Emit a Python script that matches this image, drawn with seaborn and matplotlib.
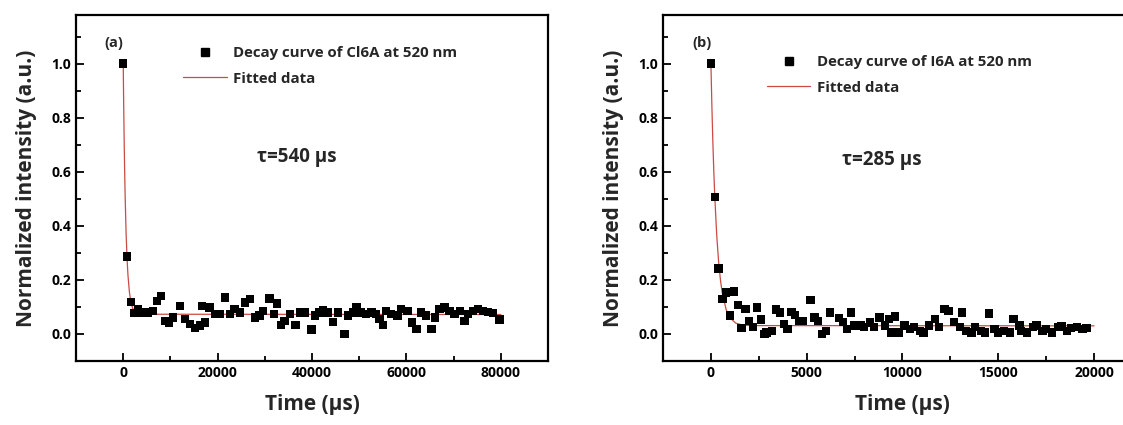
import numpy as np
import pandas as pd
import matplotlib
matplotlib.use('Agg')
import matplotlib.pyplot as plt
from matplotlib.lines import Line2D
from matplotlib.ticker import MultipleLocator, FormatStrFormatter
import seaborn as sns

# Panel (a): Cl6A decay
time_a = [0, 800, 1600, 2400, 3200, 4200, 5300, 6300, 7100, 8000, 8800, 9700,
          10600, 12000, 13100, 14100, 15200, 16200, 16700, 17300, 18300, 19400,
          20500, 21500, 22600, 23600, 24700, 25800, 26800, 27900, 28900, 29600,
          31000, 32000, 32600, 33400, 34200, 35300, 36500, 37400, 38500, 39900,
          40600, 41600, 42300, 43400, 44400, 45500, 46900, 47600, 48700, 49400,
          50400, 51500, 52600, 53600, 54300, 55000, 55700, 56800, 58100, 58900,
          60200, 61200, 62100, 63100, 64200, 65300, 66000, 67000, 68100, 69100,
          70200, 71300, 72300, 73000, 74100, 75100, 76200, 77300, 78300, 79700]
int_a = [1.0, 0.286, 0.119, 0.077, 0.090, 0.080, 0.080, 0.086, 0.123, 0.141,
         0.049, 0.041, 0.061, 0.104, 0.055, 0.037, 0.021, 0.031, 0.104, 0.043,
         0.098, 0.074, 0.074, 0.135, 0.074, 0.092, 0.080, 0.117, 0.129, 0.061,
         0.068, 0.086, 0.131, 0.074, 0.113, 0.033, 0.049, 0.074, 0.034, 0.080,
         0.080, 0.016, 0.068, 0.080, 0.088, 0.080, 0.045, 0.080, 0.000, 0.068,
         0.080, 0.098, 0.080, 0.074, 0.080, 0.074, 0.055, 0.034, 0.086, 0.074,
         0.068, 0.092, 0.086, 0.043, 0.018, 0.080, 0.068, 0.018, 0.061, 0.092,
         0.098, 0.086, 0.074, 0.086, 0.049, 0.074, 0.086, 0.092, 0.086, 0.082,
         0.077, 0.053]
fit_time_a = [0, 100, 200, 300, 400, 600, 800, 1000, 1300, 1600, 2000, 2500,
              3000, 4000, 80000]
fit_int_a = [1.0, 0.843, 0.713, 0.604, 0.515, 0.377, 0.283, 0.218, 0.156,
             0.120, 0.095, 0.081, 0.076, 0.073, 0.072]

# Panel (b): I6A decay
time_b = [0, 200, 400, 600, 800, 1000, 1200, 1400, 1600, 1800, 2000, 2200,
          2400, 2600, 2800, 2900, 3200, 3400, 3600, 3800, 4000, 4200, 4400,
          4600, 4800, 5200, 5400, 5600, 5800, 6000, 6200, 6700, 6900, 7100,
          7300, 7500, 7800, 8000, 8300, 8500, 8800, 9100, 9300, 9400, 9600,
          9800, 10100, 10400, 10600, 10900, 11100, 11400, 11700, 11900, 12200,
          12400, 12700, 13000, 13100, 13300, 13600, 13800, 14100, 14300, 14500,
          14800, 15000, 15300, 15600, 15800, 16100, 16200, 16500, 16800, 17000,
          17300, 17500, 17800, 18100, 18300, 18600, 18800, 19100, 19400, 19600]
int_b = [1.0, 0.506, 0.242, 0.129, 0.153, 0.068, 0.157, 0.107, 0.022, 0.092,
         0.049, 0.025, 0.098, 0.053, 0.000, 0.006, 0.012, 0.090, 0.080, 0.037,
         0.018, 0.082, 0.070, 0.049, 0.049, 0.125, 0.061, 0.049, 0.000, 0.012,
         0.080, 0.058, 0.045, 0.018, 0.080, 0.031, 0.031, 0.025, 0.043, 0.025,
         0.061, 0.031, 0.055, 0.006, 0.065, 0.006, 0.031, 0.018, 0.025, 0.012,
         0.006, 0.031, 0.055, 0.025, 0.092, 0.086, 0.045, 0.025, 0.080, 0.012,
         0.006, 0.025, 0.012, 0.006, 0.076, 0.018, 0.006, 0.012, 0.006, 0.055,
         0.031, 0.012, 0.006, 0.025, 0.031, 0.012, 0.018, 0.006, 0.025, 0.028,
         0.012, 0.021, 0.025, 0.018, 0.021]
fit_time_b = [0, 50, 100, 150, 200, 300, 400, 500, 600, 800, 1000, 1300,
              1600, 2000, 20000]
fit_int_b = [1.0, 0.844, 0.713, 0.603, 0.511, 0.369, 0.268, 0.198, 0.148,
             0.089, 0.059, 0.040, 0.034, 0.031, 0.030]

panels = [
    {'time': time_a, 'val': int_a, 'ft': fit_time_a, 'fv': fit_int_a,
     'label': '(a)', 'legend': 'Decay curve of Cl6A at 520 nm', 'tau': 'τ=540 μs',
     'xlim': (-10000, 90000), 'major': 20000, 'minor': 10000},
    {'time': time_b, 'val': int_b, 'ft': fit_time_b, 'fv': fit_int_b,
     'label': '(b)', 'legend': 'Decay curve of I6A at 520 nm', 'tau': 'τ=285 μs',
     'xlim': (-2500, 22500), 'major': 5000, 'minor': 2500},
]

sns.set_theme(style='ticks')
plt.rcParams['font.family'] = ['Open Sans', 'DejaVu Sans']
plt.rcParams['font.weight'] = 'bold'
plt.rcParams['axes.labelweight'] = 'bold'

fit_color = '#cc4a44'

fig = plt.figure(figsize=(11.23, 4.25), dpi=100)
ax_a = fig.add_axes([0.0677, 0.1506, 0.4203, 0.8141])
ax_b = fig.add_axes([0.5904, 0.1506, 0.4265, 0.8141])

legend_pos = [(0.227, 0.909), (0.217, 0.883)]
tau_pos = [(0.384, 0.59), (0.374, 0.581)]

for ax, p, lpos, tpos in zip([ax_a, ax_b], panels, legend_pos, tau_pos):
    df = pd.DataFrame({'time': p['time'], 'val': p['val']})
    fit = pd.DataFrame({'time': p['ft'], 'val': p['fv']})
    sns.lineplot(data=fit, x='time', y='val', ax=ax, color=fit_color,
                 linewidth=0.9, sort=False, estimator=None, zorder=2)
    sns.scatterplot(data=df, x='time', y='val', ax=ax, marker='s', s=36,
                    color='black', edgecolor='none', zorder=3)

    ax.set_xlim(*p['xlim'])
    ax.set_ylim(-0.1, 1.18)
    ax.xaxis.set_major_locator(MultipleLocator(p['major']))
    ax.xaxis.set_minor_locator(MultipleLocator(p['minor']))
    ax.yaxis.set_minor_locator(MultipleLocator(0.1))
    ax.set_yticks([0.0, 0.2, 0.4, 0.6, 0.8, 1.0])
    ax.yaxis.set_major_formatter(FormatStrFormatter('%.1f'))
    ax.tick_params(which='both', direction='in', top=False, right=False,
                   width=1.3, labelsize=10, colors='black')
    ax.tick_params(which='major', length=6)
    ax.tick_params(which='minor', length=3.5)
    for lab in ax.get_xticklabels() + ax.get_yticklabels():
        lab.set_fontweight('bold')
    for s in ax.spines.values():
        s.set_visible(True)
        s.set_linewidth(1.6)
        s.set_color('black')

    ax.set_xlabel('Time (μs)', fontsize=15, fontweight='bold', labelpad=10)
    ax.set_ylabel('Normalized intensity (a.u.)', fontsize=15, fontweight='bold',
                  labelpad=10)

    handles = [
        Line2D([], [], marker='s', linestyle='none', color='black', markersize=5.5),
        Line2D([], [], color=fit_color, linewidth=0.9),
    ]
    ax.legend(handles, [p['legend'], 'Fitted data'], loc='upper left',
              bbox_to_anchor=lpos, frameon=False, borderpad=0, borderaxespad=0,
              handlelength=2.9, handletextpad=0.45, labelspacing=0.75,
              prop={'family': 'Open Sans', 'weight': 'bold', 'size': 10.8})

    ax.text(0.061, 0.919, p['label'], transform=ax.transAxes, fontsize=10.5,
            fontweight='bold', va='center', ha='left')
    ax.text(tpos[0], tpos[1], p['tau'], transform=ax.transAxes, fontsize=13.5,
            fontweight='bold', va='center', ha='left')

fig.savefig('out.png', dpi=100)
